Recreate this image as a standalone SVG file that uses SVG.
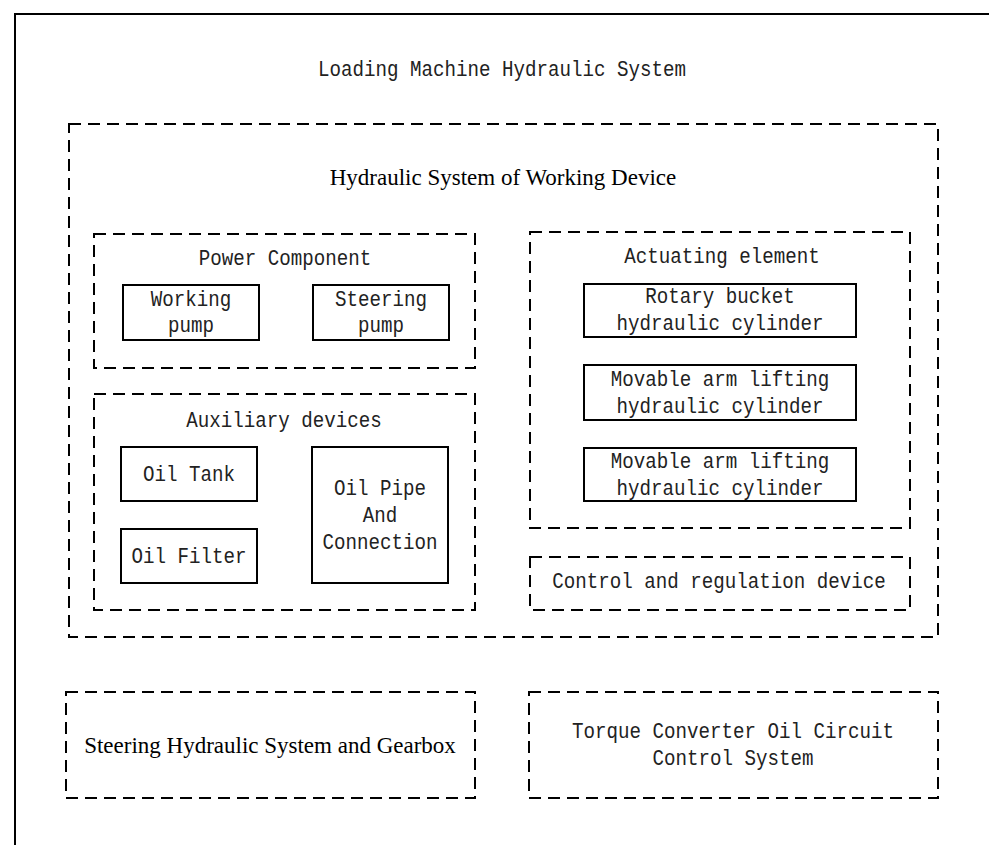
<svg xmlns="http://www.w3.org/2000/svg" width="989" height="845" viewBox="0 0 989 845">
<style>
.dash{fill:none;stroke:#000;stroke-width:2;stroke-dasharray:12 7}
.solid{fill:#fff;stroke:#000;stroke-width:2}
.m{font-family:"Liberation Mono","DejaVu Sans Mono",monospace;font-size:22px;fill:#222;text-anchor:middle}
.s{font-family:"Liberation Serif","Times New Roman",serif;font-size:23px;fill:#000;text-anchor:middle}
</style>
<rect x="0" y="0" width="989" height="845" fill="#fff"/>
<rect x="15" y="14" width="1000" height="900" fill="none" stroke="#000" stroke-width="2"/>
<text class="m" x="502" y="76" textLength="368" lengthAdjust="spacingAndGlyphs">Loading Machine Hydraulic System</text>
<g id="working-device">
<rect class="dash" x="69" y="124" width="869" height="513"/>
<text class="s" x="503" y="185">Hydraulic System of Working Device</text>
</g>
<g id="power-component">
<rect class="dash" x="94" y="234" width="381" height="134"/>
<text class="m" x="285" y="265" textLength="172.5" lengthAdjust="spacingAndGlyphs">Power Component</text>
</g>
<g id="working-pump">
<rect class="solid" x="123" y="285" width="136" height="55"/>
<text class="m" x="191" y="306" textLength="80.5" lengthAdjust="spacingAndGlyphs">Working</text>
<text class="m" x="191" y="332" textLength="46" lengthAdjust="spacingAndGlyphs">pump</text>
</g>
<g id="steering-pump">
<rect class="solid" x="313" y="285" width="136" height="55"/>
<text class="m" x="381" y="306" textLength="92" lengthAdjust="spacingAndGlyphs">Steering</text>
<text class="m" x="381" y="332" textLength="46" lengthAdjust="spacingAndGlyphs">pump</text>
</g>
<g id="auxiliary-devices">
<rect class="dash" x="94" y="394" width="381" height="216"/>
<text class="m" x="284" y="427" textLength="195.5" lengthAdjust="spacingAndGlyphs">Auxiliary devices</text>
</g>
<g id="oil-tank">
<rect class="solid" x="121" y="447" width="136" height="54"/>
<text class="m" x="189" y="481" textLength="92" lengthAdjust="spacingAndGlyphs">Oil Tank</text>
</g>
<g id="oil-filter">
<rect class="solid" x="121" y="529" width="136" height="54"/>
<text class="m" x="189" y="563" textLength="115" lengthAdjust="spacingAndGlyphs">Oil Filter</text>
</g>
<g id="oil-pipe">
<rect class="solid" x="312" y="447" width="136" height="136"/>
<text class="m" x="380" y="495" textLength="92" lengthAdjust="spacingAndGlyphs">Oil Pipe</text>
<text class="m" x="380" y="522" textLength="34.5" lengthAdjust="spacingAndGlyphs">And</text>
<text class="m" x="380" y="549" textLength="115" lengthAdjust="spacingAndGlyphs">Connection</text>
</g>
<g id="actuating-element">
<rect class="dash" x="530" y="232" width="380" height="296"/>
<text class="m" x="722" y="263" textLength="195.5" lengthAdjust="spacingAndGlyphs">Actuating element</text>
</g>
<g id="rotary-bucket">
<rect class="solid" x="584" y="284" width="272" height="53"/>
<text class="m" x="720" y="303" textLength="149.5" lengthAdjust="spacingAndGlyphs">Rotary bucket</text>
<text class="m" x="720" y="330" textLength="207" lengthAdjust="spacingAndGlyphs">hydraulic cylinder</text>
</g>
<g id="movable-arm-1">
<rect class="solid" x="584" y="365" width="272" height="55"/>
<text class="m" x="720" y="386" textLength="218.5" lengthAdjust="spacingAndGlyphs">Movable arm lifting</text>
<text class="m" x="720" y="413" textLength="207" lengthAdjust="spacingAndGlyphs">hydraulic cylinder</text>
</g>
<g id="movable-arm-2">
<rect class="solid" x="584" y="448" width="272" height="53"/>
<text class="m" x="720" y="468" textLength="218.5" lengthAdjust="spacingAndGlyphs">Movable arm lifting</text>
<text class="m" x="720" y="495" textLength="207" lengthAdjust="spacingAndGlyphs">hydraulic cylinder</text>
</g>
<g id="control-regulation">
<rect class="dash" x="530" y="557" width="380" height="53"/>
<text class="m" x="719" y="588" textLength="333.5" lengthAdjust="spacingAndGlyphs">Control and regulation device</text>
</g>
<g id="steering-system">
<rect class="dash" x="66" y="692" width="409" height="106"/>
<text class="s" x="270" y="753">Steering Hydraulic System and Gearbox</text>
</g>
<g id="torque-converter">
<rect class="dash" x="529" y="692" width="409" height="106"/>
<text class="m" x="733" y="738" textLength="322" lengthAdjust="spacingAndGlyphs">Torque Converter Oil Circuit</text>
<text class="m" x="733" y="765" textLength="161" lengthAdjust="spacingAndGlyphs">Control System</text>
</g>
<g id="connectors"></g>
</svg>
